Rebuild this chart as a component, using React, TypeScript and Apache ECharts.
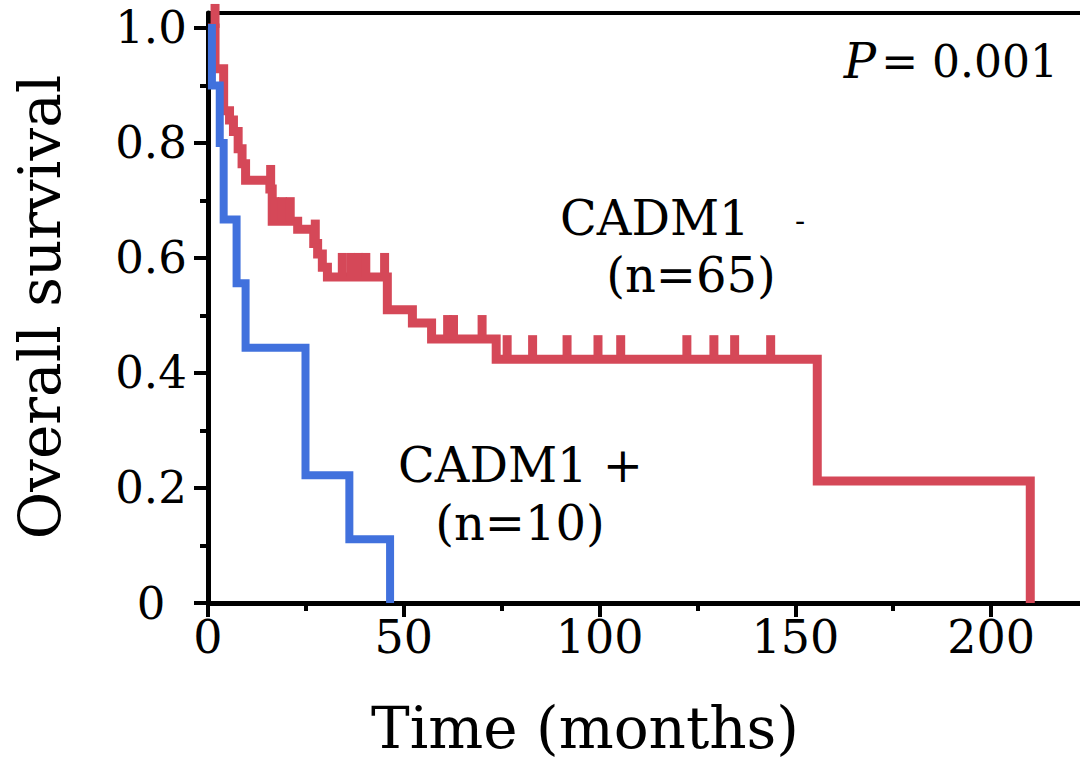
import React, { useEffect, useRef } from "react";
import * as echarts from "echarts";

// ---- data ----
const xMajorTicks = [0, 50, 100, 150, 200];
const xMinorTicks = [25, 75, 125, 175];
const yMajorTicks = [0, 0.2, 0.4, 0.6, 0.8, 1.0];
const yMinorTicks = [0.1, 0.3, 0.5, 0.7, 0.9];

// CADM1 - (n=65): [time (months), survival] at each step
const negSteps: [number, number][] = [
  [0, 1.0], [1.8, 0.929], [4.0, 0.856], [5.5, 0.84], [6.5, 0.82], [7.7, 0.79],
  [8.7, 0.764], [9.6, 0.735], [15.8, 0.72], [16.4, 0.664], [22.9, 0.65],
  [27.0, 0.625], [28.0, 0.607], [29.2, 0.584], [30.5, 0.567], [45.8, 0.51],
  [52.2, 0.487], [57.1, 0.459], [73.6, 0.424], [155.6, 0.212], [210, 0],
];
// censored observations of CADM1 -
const negCensored: [number, number][] = [
  [1.8, 1.0],
  [16.0, 0.72], [17.0, 0.664], [19.0, 0.664], [21.0, 0.664], [27.4, 0.625],
  [34.3, 0.567], [36.5, 0.567], [38.5, 0.567], [40.3, 0.567], [45.1, 0.567],
  [61.2, 0.459], [62.7, 0.459], [70.0, 0.459],
  [76.4, 0.424], [82.9, 0.424], [91.7, 0.424], [99.6, 0.424], [105.4, 0.424],
  [122.3, 0.424], [129.2, 0.424], [134.5, 0.424], [143.7, 0.424],
];
// CADM1 + (n=10)
const posSteps: [number, number][] = [
  [0, 1.0], [1.0, 0.9], [3.0, 0.8], [4.0, 0.667], [7.3, 0.556], [9.6, 0.444],
  [24.9, 0.222], [36.1, 0.111], [46.5, 0],
];

const RED = "#D54858";
const BLUE = "#4171DD";
const FONT = "'DejaVu Serif', serif";

export default function App() {
  const ref = useRef<HTMLDivElement>(null);
  useEffect(() => {
    if (!ref.current) return;
    const chart = echarts.init(ref.current, undefined, { renderer: "svg" });
    const xCommon = { type: "value", min: 0, max: 222.7, gridIndex: 0 };
    const yCommon = { type: "value", min: 0, max: 1.026, gridIndex: 0 };
    chart.setOption({
      animation: false,
      backgroundColor: "#ffffff",
      grid: { left: 208, right: 0, top: 13, bottom: 162, containLabel: false },
      xAxis: [
        {
          ...xCommon,
          position: "bottom",
          interval: 50,
          splitLine: { show: false },
          axisLine: { show: true, lineStyle: { color: "#000", width: 5 } },
          axisTick: { show: true, length: 14, lineStyle: { color: "#000", width: 4 }, customValues: xMajorTicks },
          axisLabel: { show: true, margin: 12, fontSize: 46, lineHeight: 44, color: "#000", fontFamily: FONT, customValues: xMajorTicks },
        },
        {
          ...xCommon,
          position: "bottom",
          interval: 25,
          splitLine: { show: false },
          axisLine: { show: false },
          axisTick: { show: true, length: 8, lineStyle: { color: "#000", width: 4 }, customValues: xMinorTicks },
          axisLabel: { show: false },
        },
        {
          ...xCommon,
          position: "top",
          splitLine: { show: false },
          axisLine: { show: true, lineStyle: { color: "#000", width: 4 } },
          axisTick: { show: false },
          axisLabel: { show: false },
        },
      ],
      yAxis: [
        {
          ...yCommon,
          position: "left",
          interval: 0.2,
          splitLine: { show: false },
          axisLine: { show: true, lineStyle: { color: "#000", width: 5 } },
          axisTick: { show: true, length: 14, lineStyle: { color: "#000", width: 4 }, customValues: yMajorTicks },
          axisLabel: {
            show: true, margin: 57, align: "center", fontSize: 45, lineHeight: 44, color: "#000", fontFamily: FONT,
            customValues: yMajorTicks,
            formatter: (v: number) => (v === 0 ? "0" : v.toFixed(1)),
          },
        },
        {
          ...yCommon,
          position: "left",
          interval: 0.1,
          splitLine: { show: false },
          axisLine: { show: false },
          axisTick: { show: true, length: 8, lineStyle: { color: "#000", width: 4 }, customValues: yMinorTicks },
          axisLabel: { show: false },
        },
      ],
      series: [
        {
          type: "line", step: "end", data: negSteps, xAxisIndex: 0, yAxisIndex: 0,
          showSymbol: false, symbol: "none", z: 2,
          lineStyle: { color: RED, width: 9, join: "miter", cap: "butt" },
        },
        {
          type: "scatter", data: negCensored, xAxisIndex: 0, yAxisIndex: 0,
          symbol: "rect", symbolSize: [9, 24], symbolOffset: [0, -12], z: 2, clip: true,
          itemStyle: { color: RED, opacity: 1 },
        },
        {
          type: "line", step: "end", data: posSteps, xAxisIndex: 0, yAxisIndex: 0,
          showSymbol: false, symbol: "none", z: 3,
          lineStyle: { color: BLUE, width: 8, join: "miter", cap: "butt" },
        },
      ],
      graphic: [
        { type: "text", x: 40, y: 307, rotation: Math.PI / 2, style: { text: "Overall survival", fontSize: 58, fontFamily: FONT, fill: "#000", align: "center", verticalAlign: "middle" } },
        { type: "text", x: 585, y: 728, style: { text: "Time (months)", fontSize: 58, fontFamily: FONT, fill: "#000", align: "center", verticalAlign: "middle" } },
        { type: "text", x: 876, y: 61, style: { text: "P", fontSize: 48, fontStyle: "italic", fontFamily: FONT, fill: "#000", align: "right", verticalAlign: "middle" } },
        { type: "text", x: 1058, y: 61, style: { text: "= 0.001", fontSize: 44, fontFamily: FONT, fill: "#000", align: "right", verticalAlign: "middle" } },
        { type: "text", x: 560, y: 218, style: { text: "CADM1", fontSize: 48, fontFamily: FONT, fill: "#000", align: "left", verticalAlign: "middle" } },
        { type: "text", x: 800, y: 220, style: { text: "-", fontSize: 30, fontFamily: FONT, fill: "#000", align: "center", verticalAlign: "middle" } },
        { type: "text", x: 691, y: 275, style: { text: "(n=65)", fontSize: 48, fontFamily: FONT, fill: "#000", align: "center", verticalAlign: "middle" } },
        { type: "text", x: 398, y: 465, style: { text: "CADM1 +", fontSize: 48, fontFamily: FONT, fill: "#000", align: "left", verticalAlign: "middle" } },
        { type: "text", x: 520, y: 523, style: { text: "(n=10)", fontSize: 48, fontFamily: FONT, fill: "#000", align: "center", verticalAlign: "middle" } },
      ],
    });
    return () => chart.dispose();
  }, []);
  return (
    <div
      ref={ref}
      style={{ position: "fixed", left: 0, top: 0, width: 1080, height: 765, background: "#fff" }}
    />
  );
}
